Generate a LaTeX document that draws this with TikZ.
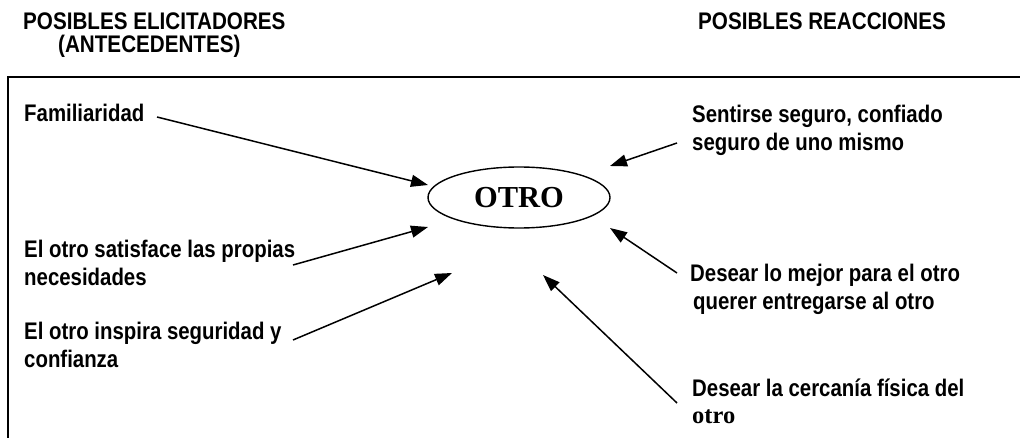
\documentclass[tikz,border=0pt]{standalone}
\usepackage{fontspec}
\setmainfont[FakeStretch=0.85,UprightFont=*,BoldFont=*]{Liberation Sans Bold}
\newfontfamily\headfont[FakeStretch=0.86]{Liberation Sans Bold}
\newfontfamily\romanfont{Liberation Serif}
\usetikzlibrary{arrows.meta,shapes.geometric}
\begin{document}
\begin{tikzpicture}[x=1pt,y=-1pt,
  label/.style={anchor=base west,inner sep=0pt,align=left,
    font=\fontsize{24}{28}\selectfont},
  heading/.style={anchor=base west,inner sep=0pt,
    font=\headfont\fontsize{24}{24}\selectfont},
  link/.style={line width=1.5pt,-{Triangle[length=17pt,width=12pt]}},
  frame/.style={line width=1.8pt}]
\useasboundingbox (0,0) rectangle (1020,438);

% headings above the frame
\node[heading] (hleft)  at (23,30)  {POSIBLES ELICITADORES};
\node[heading] (hleft2) at (58,53)  {(ANTECEDENTES)};
\node[heading] (hright) at (698,30) {POSIBLES REACCIONES};

% open frame: only the top and left sides are visible
\draw[frame] (8,440) -- (8,77) -- (1022,77);

% central node
\node[draw,ellipse,line width=1.4pt,minimum width=182pt,minimum height=61pt,
      inner sep=0pt,font=\romanfont\bfseries\fontsize{30.5}{30.5}\selectfont]
      (otro) at (519,197.5) {OTRO};

% antecedents (anchor sits on the baseline of the last line)
\node[label] (fam) at (24,122) {Familiaridad};
\node[label] (sat) at (24,286) {El otro satisface las propias\\necesidades};
\node[label] (ins) at (24,367) {El otro inspira seguridad y\\confianza};

% reactions
\node[label] (seg) at (692,151) {Sentirse seguro, confiado\\seguro de uno mismo};
\node[label] (mej) at (690,309) {Desear lo mejor para el otro\\\hspace*{3pt}querer entregarse al otro};
\node[label] (cer) at (692,423) {Desear la cercanía física del\\[-1pt]{\romanfont\bfseries\fontsize{24.5}{24.5}\selectfont otro}};

% connector end points
\coordinate (famS) at (157,117);  \coordinate (famE) at (428,185);
\coordinate (satS) at (293,265);  \coordinate (satE) at (428,227);
\coordinate (insS) at (293,340);  \coordinate (insE) at (452,273);
\coordinate (segS) at (677,143);  \coordinate (segE) at (610,166);
\coordinate (mejS) at (677,273);  \coordinate (mejE) at (610,228);
\coordinate (cerS) at (677,403);  \coordinate (cerE) at (543,275);

\draw[link] (famS) -- (famE);
\draw[link] (satS) -- (satE);
\draw[link] (insS) -- (insE);
\draw[link] (segS) -- (segE);
\draw[link] (mejS) -- (mejE);
\draw[link] (cerS) -- (cerE);
\end{tikzpicture}
\end{document}
